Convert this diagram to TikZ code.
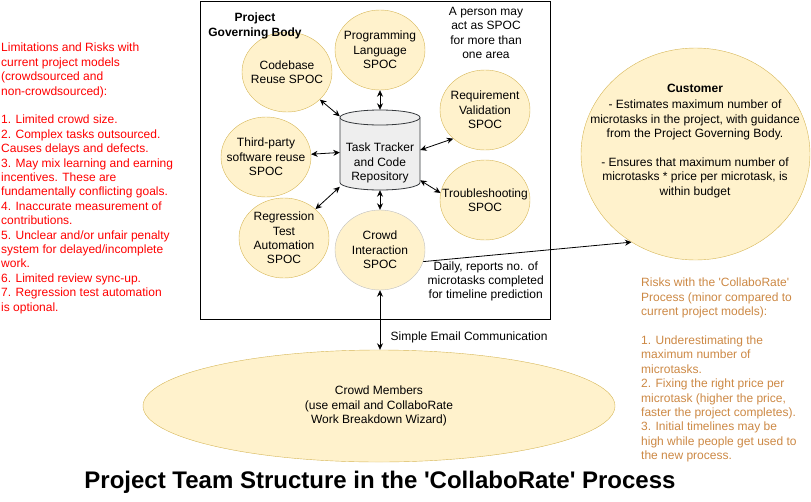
\documentclass[tikz,border=0pt]{standalone}
\usepackage{fontspec}
\setmainfont{Liberation Sans}
\usepackage{tikz}
\usetikzlibrary{shapes.geometric, arrows.meta, positioning}
\usepackage{xcolor}
\definecolor{spocfill}{HTML}{FFF2CC}
\definecolor{spocline}{HTML}{D6B656}
\definecolor{repofill}{HTML}{EEEEEE}
\definecolor{repoline}{HTML}{36393D}
\definecolor{crowdline}{HTML}{C0C0C0}
\definecolor{riskred}{HTML}{FF0000}
\definecolor{riskorange}{RGB}{204,136,68}
\tikzstyle{spoc} = [ellipse, draw=spocline, fill=spocfill, minimum width=90pt, minimum height=80pt, inner xsep=-20pt, inner ysep=-15pt, align=center]
\tikzstyle{note} = [anchor=north west, align=left, inner sep=0pt]
\tikzstyle{link} = [line width=0.8pt,<->,>={Stealth[length=6.5pt,width=6pt]}]
\tikzstyle{flow} = [line width=0.8pt,->,>={Stealth[length=6.5pt,width=6pt]}]

\begin{document}
\begin{tikzpicture}[x=1pt, y=-1pt, every node/.style={font=\fontsize{12}{14.4}\selectfont}]
  \useasboundingbox (0,0) rectangle (811,501);

  % governing body box
  \node[draw, line width=0.8pt, minimum width=350pt, minimum height=318pt, inner sep=0pt] (govbody) at (375,160) {};
  \node[align=center] (spocnote) at (486,33) {A person may\\act as SPOC\\for more than\\one area};

  % SPOCs round the repository
  \node[spoc] (codebase) at (287,72) {Codebase\\Reuse SPOC};
  \node[spoc] (language) at (380,50) {Programming\\Language\\SPOC};
  \node[spoc] (requirement) at (485,110) {Requirement\\Validation\\SPOC};
  \node[spoc] (thirdparty) at (266,157) {Third-party\\software reuse\\SPOC};
  \node[spoc] (trouble) at (485,200) {Troubleshooting\\SPOC};
  \node[spoc] (regression) at (284,238) {Regression\\Test\\Automation\\SPOC};
  \node[spoc, draw=crowdline] (crowd) at (380,250) {Crowd\\Interaction\\SPOC};
  \node[align=center, font=\fontsize{12}{14.4}\selectfont\bfseries] (govtitle) at (255,26) {Project\\Governing Body};

  % repository cylinder
  \node[minimum width=80pt, minimum height=80pt, inner sep=0pt] (repo) at (380,150) {};
  \filldraw[draw=repoline, fill=repofill, line width=0.8pt] (340,117.5) -- (340,182.5)
    arc[start angle=180, end angle=360, x radius=40pt, y radius=7.5pt] -- (420,117.5)
    arc[start angle=0, end angle=180, x radius=40pt, y radius=7.5pt] -- cycle;
  \draw[draw=repoline, line width=0.8pt] (340,117.5) arc[start angle=180, end angle=360, x radius=40pt, y radius=7.5pt];
  \node[align=center] (repolabel) at (380,163) {Task Tracker\\and Code\\Repository};

  % customer and crowd
  \node[ellipse, draw=spocline, fill=spocfill, minimum width=229pt, minimum height=212pt] (customer) at (695.5,154) {};
  \node[align=center] (customertext) at (695,141) {\textbf{Customer}\\[2pt]- Estimates maximum number of\\microtasks in the project, with guidance\\from the Project Governing Body.\\[14.4pt]- Ensures that maximum number of\\microtasks * price per microtask, is\\within budget};
  \node[ellipse, draw=spocline, fill=spocfill, minimum width=472pt, minimum height=112pt, align=center] (members) at (379,406) {Crowd Members\\(use email and CollaboRate\\Work Breakdown Wizard)};

  % risk notes
  \node[note, text=riskred] (limits) at (1,43) {Limitations and Risks with\\current project models\\(crowdsourced and\\non-crowdsourced):\\[14.4pt]1. Limited crowd size.\\2. Complex tasks outsourced.\\Causes delays and defects.\\3. May mix learning and earning\\incentives. These are\\fundamentally conflicting goals.\\4. Inaccurate measurement of\\contributions.\\5. Unclear and/or unfair penalty\\system for delayed/incomplete\\work.\\6. Limited review sync-up.\\7. Regression test automation\\is optional.};
  \node[note, text=riskorange] (risks) at (641,278) {Risks with the \textquotesingle CollaboRate\textquotesingle\\Process (minor compared to\\current project models):\\[14.4pt]1. Underestimating the\\maximum number of\\microtasks.\\2. Fixing the right price per\\microtask (higher the price,\\faster the project completes).\\3. Initial timelines may be\\high while people get used to\\the new process.};

  \node[font=\fontsize{24}{28}\selectfont\bfseries] (title) at (380,482) {Project Team Structure in the \textquotesingle CollaboRate\textquotesingle\ Process};

  \draw[link] (codebase) -- (repo);
  \draw[link] (language) -- (repo);
  \draw[link] (thirdparty) -- (repo);
  \draw[link] (requirement.222) -- (repo.0);
  \draw[link] (trouble.171) -- (repo.-37);
  \draw[link] (regression) -- (repo);
  \draw[link] (crowd) -- (repo);
  \draw[flow] (crowd.-15) -- node[below, pos=0.3, align=center, yshift=-2pt]{Daily, reports no. of\\microtasks completed\\for timeline prediction} (customer.234);
  \draw[link] (crowd.south) -- node[right, pos=0.8, xshift=7pt]{Simple Email Communication} (crowd.south |- members.north);
\end{tikzpicture}
\end{document}
